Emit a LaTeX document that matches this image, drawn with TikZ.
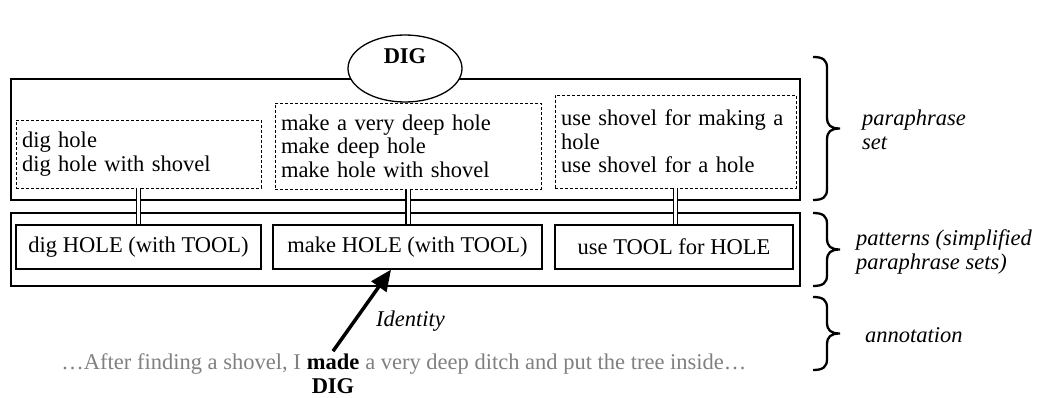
\documentclass[tikz,border=0pt]{standalone}
\usepackage{fontspec}
\setmainfont{Liberation Serif}
\usetikzlibrary{arrows.meta,positioning,calc,shapes.geometric}

% right curly brace between two heights: x, top, bottom
\newcommand{\sidebrace}[3]{%
	\draw[bracepen] (#1,#2) .. controls ({#1+10},#2) and ({#1+14},{#2+3}) .. ({#1+14},{#2+11})
		-- ({#1+14},{(#2+#3)/2-11}) .. controls ({#1+14},{(#2+#3)/2-3}) and ({#1+18},{(#2+#3)/2}) .. ({#1+27},{(#2+#3)/2})
		.. controls ({#1+18},{(#2+#3)/2}) and ({#1+14},{(#2+#3)/2+3}) .. ({#1+14},{(#2+#3)/2+11})
		-- ({#1+14},{#3-11}) .. controls ({#1+14},{#3-3}) and ({#1+10},#3) .. (#1,#3);
}

\begin{document}
\begin{tikzpicture}[x=1pt,y=-1pt,
	every node/.style={font=\fontsize{22.5}{23.5}\selectfont},
	outerbox/.style={draw,line width=1.3pt,inner sep=0pt},
	setbox/.style={draw,dashed,dash pattern=on 3pt off 2pt,line width=0.9pt,align=left,inner xsep=6pt,inner ysep=0pt},
	patbox/.style={draw,line width=1.3pt,minimum height=44pt,inner sep=0pt},
	link/.style={double,double distance=3pt,line width=1.3pt},
	bracepen/.style={line width=2.3pt},
	side/.style={font=\fontsize{22.5}{24}\selectfont\itshape,align=left,anchor=west,inner sep=0pt},
	sent/.style={text=black!50,inner sep=0pt},
	idarrow/.style={line width=3.5pt,-{Triangle[length=21pt,width=18pt]}}]
		\useasboundingbox (0,0) rectangle (1038,398);

		% the two layers
		\node[outerbox,minimum width=789pt,minimum height=121pt] (paraset) at (405.5,139.5) {};
		\node[outerbox,minimum width=789pt,minimum height=73pt] (patset) at (405.5,249.5) {};

		\node[ellipse,draw,line width=1.3pt,fill=white,minimum width=114pt,minimum height=67pt] (dig) at (405,68.5) {};
		\node[font=\fontsize{22.5}{23.5}\selectfont\bfseries] (diglbl) at (405,56.5) {DIG};

		\node[setbox,text width=233pt,minimum height=68pt] (para1) at (138.5,154) {dig hole\\dig hole with shovel};
		\node[setbox,text width=254pt,minimum height=86pt] (para2) at (408,146) {make a very deep hole\\make deep hole\\make hole with shovel};
		\node[setbox,text width=229pt,minimum height=93pt] (para3) at (675.5,141.5) {use shovel for making a\\hole\\use shovel for a hole};

		\node[patbox,minimum width=245pt] (pat1) at (138.5,247) {dig HOLE (with TOOL)};
		\node[patbox,minimum width=269pt] (pat2) at (407.5,247) {make HOLE (with TOOL)};
		\node[patbox,minimum width=238pt] (pat3) at (674,247) {use TOOL for HOLE};

		\draw[link] (para1.south) -- (pat1.north);
		\draw[link] (para2.south) -- (para2.south |- pat2.north);
		\draw[link] (para3.south) -- (para3.south |- pat3.north);

		% annotated sentence
		\node[sent,text=black,font=\fontsize{22.5}{23.5}\selectfont\bfseries,anchor=base] (made) at (333,369) {made};
		\node[sent,base left=5.6pt of made] (senta) {…After finding a shovel, I};
		\node[sent,base right=5.6pt of made] (sentb) {a very deep ditch and put the tree inside…};
		\node[font=\fontsize{22.5}{23.5}\selectfont\bfseries,anchor=base,inner sep=0pt] (digword) at ($(made.base)+(0,24.5)$) {DIG};

		\draw[idarrow] ([yshift=2pt]made.north) -- ([xshift=-16.5pt]pat2.south);
		\node[font=\fontsize{22.5}{23.5}\selectfont\itshape,anchor=west,inner sep=0pt] (idlbl) at (376,321) {Identity};

		% braces and their labels
		\sidebrace{813}{57}{200}
		\sidebrace{813}{213}{286}
		\sidebrace{813}{297}{370}
		\node[side] (lblset) at (862,130) {paraphrase\\set};
		\node[side] (lblpat) at (856,252) {patterns (simplified\\paraphrase sets)};
		\node[side] (lblann) at (865,335) {annotation};
\end{tikzpicture}
\end{document}
